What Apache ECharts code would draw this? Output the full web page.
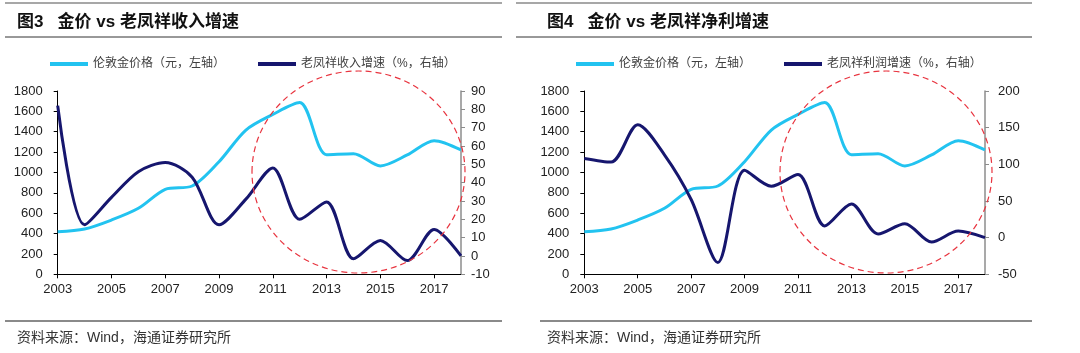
<!DOCTYPE html>
<html>
<head>
<meta charset="utf-8">
<title>金价 vs 老凤祥</title>
<script src="https://cdn.jsdelivr.net/npm/echarts@6/dist/echarts.min.js"></script>
<style>
  html, body { margin: 0; padding: 0; background: #fff; }
  #chart { width: 1080px; height: 353px; }
</style>
</head>
<body>
<div id="chart"></div>
<script>
  // 年份
  const years = ['2003', '2004', '2005', '2006', '2007', '2008', '2009', '2010',
    '2011', '2012', '2013', '2014', '2015', '2016', '2017', '2018'];
  // 伦敦金价格（元）
  const goldPrice = [418, 445, 533, 648, 835, 867, 1106, 1417, 1570, 1686, 1175, 1185, 1064, 1172, 1312, 1221];
  // 老凤祥收入增速（%）
  const revenueGrowth = [82, 17, 32, 46, 51, 43, 17, 31, 48, 20, 29.5, -1.5, 8.5, -2.5, 14.5, 0];
  // 老凤祥利润增速（%）
  const profitGrowth = [108, 103, 154, 113, 52, -34, 92, 70, 86, 16, 46, 5, 19, -6, 9, 0];

  const goldName = '伦敦金价格（元，左轴）';
  const revName = '老凤祥收入增速（%，右轴）';
  const profitName = '老凤祥利润增速（%，右轴）';

  const CYAN = '#22c3f0';
  const NAVY = '#16166e';
  const FONT = '"Liberation Sans", Arial, "Noto Sans CJK SC", sans-serif';
  const CJK = '"Liberation Sans", "Noto Sans CJK SC", sans-serif';

  const xAxisOf = (gi) => ({
    type: 'category',
    gridIndex: gi,
    data: years,
    boundaryGap: false,
    axisLine: { lineStyle: { color: '#000', width: 1 } },
    axisTick: { interval: 1, length: 4, lineStyle: { color: '#000' } },
    axisLabel: { interval: 1, margin: 9, fontSize: 13, color: '#222', fontFamily: FONT },
    splitLine: { show: false },
  });

  const leftAxisOf = (gi) => ({
    type: 'value',
    gridIndex: gi,
    position: 'left',
    min: 0,
    max: 1800,
    interval: 200,
    axisLine: { show: true, lineStyle: { color: '#000', width: 1 } },
    axisTick: { show: true, length: 4, lineStyle: { color: '#000' } },
    axisLabel: { margin: 15, fontSize: 13, color: '#222', fontFamily: FONT, formatter: (v) => String(v) },
    splitLine: { show: false },
  });

  const rightAxisOf = (gi, min, max, step, margin) => ({
    type: 'value',
    gridIndex: gi,
    position: 'right',
    min: min,
    max: max,
    interval: step,
    axisLine: { show: true, lineStyle: { color: '#8c8c8c', width: 1.5 } },
    axisTick: { show: true, length: 4, lineStyle: { color: '#8c8c8c' } },
    axisLabel: { margin: margin, fontSize: 13, color: '#222', fontFamily: FONT, formatter: (v) => String(v) },
    splitLine: { show: false },
  });

  const lineOf = (name, data, color, xi, yi) => ({
    name: name,
    type: 'line',
    xAxisIndex: xi,
    yAxisIndex: yi,
    data: data,
    smooth: 0.3,
    symbol: 'none',
    color: color,
    lineStyle: { color: color, width: 3 },
  });

  const legendOf = (left, names) => ({
    left: left,
    top: 58,
    padding: 0,
    icon: 'rect',
    itemWidth: 38,
    itemHeight: 4,
    itemGap: 33,
    data: names,
    selectedMode: false,
    textStyle: { fontSize: 12, color: '#404040', fontFamily: CJK },
  });

  const hline = (x1, x2, y, color, w) => ({
    type: 'line',
    shape: { x1: x1, y1: y, x2: x2, y2: y },
    style: { stroke: color, lineWidth: w },
    silent: true,
  });

  const circle = (cx, cy, rx, ry) => ({
    type: 'ellipse',
    shape: { cx: cx, cy: cy, rx: rx, ry: ry },
    style: { fill: null, stroke: '#e8343f', lineWidth: 1.2, lineDash: [6, 4] },
    silent: true,
    z: 100,
  });

  const option = {
    animation: false,
    backgroundColor: '#fff',
    title: [
      {
        text: '图3   金价 vs 老凤祥收入增速',
        left: 17, top: 14, padding: 0,
        textStyle: { fontSize: 17, fontWeight: 'bold', color: '#111', fontFamily: CJK },
      },
      {
        text: '图4   金价 vs 老凤祥净利增速',
        left: 547, top: 14, padding: 0,
        textStyle: { fontSize: 17, fontWeight: 'bold', color: '#111', fontFamily: CJK },
      },
      {
        text: '资料来源：Wind，海通证券研究所',
        left: 17, top: 331, padding: 0,
        textStyle: { fontSize: 14, fontWeight: 'normal', color: '#333', fontFamily: CJK },
      },
      {
        text: '资料来源：Wind，海通证券研究所',
        left: 547, top: 331, padding: 0,
        textStyle: { fontSize: 14, fontWeight: 'normal', color: '#333', fontFamily: CJK },
      },
    ],
    legend: [
      legendOf(50, [goldName, revName]),
      legendOf(576, [goldName, profitName]),
    ],
    grid: [
      { left: 57.7, top: 91, width: 403.3, height: 183.3 },
      { left: 584.3, top: 91, width: 400.7, height: 183.3 },
    ],
    xAxis: [xAxisOf(0), xAxisOf(1)],
    yAxis: [
      leftAxisOf(0),
      rightAxisOf(0, -10, 90, 10, 10),
      leftAxisOf(1),
      rightAxisOf(1, -50, 200, 50, 13),
    ],
    series: [
      lineOf(goldName, goldPrice, CYAN, 0, 0),
      lineOf(revName, revenueGrowth, NAVY, 0, 1),
      lineOf(goldName, goldPrice, CYAN, 1, 2),
      lineOf(profitName, profitGrowth, NAVY, 1, 3),
    ],
    graphic: [
      hline(5, 502, 3, '#8a8a8a', 1.5),
      hline(5, 502, 37, '#333', 1),
      hline(5, 502, 321, '#8a8a8a', 2),
      hline(516, 1032, 3, '#8a8a8a', 1.5),
      hline(516, 1032, 37, '#333', 1),
      hline(540, 1032, 321, '#8a8a8a', 2),
      circle(358.5, 172, 106.5, 101),
      circle(886, 172, 106, 101),
    ],
  };

  const chart = echarts.init(document.getElementById('chart'), null, { renderer: 'canvas' });
  chart.setOption(option);
</script>
</body>
</html>
